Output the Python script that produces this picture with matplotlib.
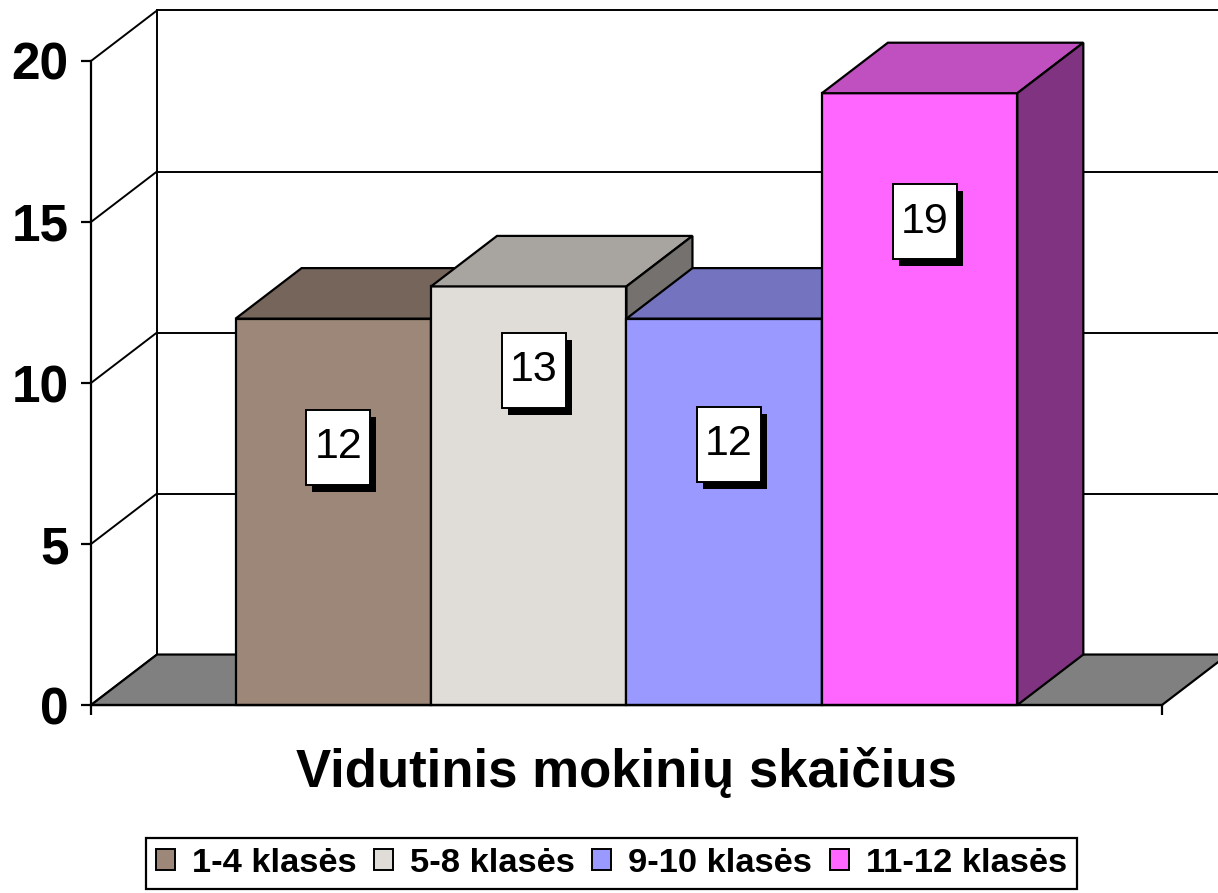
import matplotlib.pyplot as plt
import matplotlib.transforms as mtransforms
from matplotlib.patches import Polygon, Rectangle, Patch

categories = ["1-4 klasės", "5-8 klasės", "9-10 klasės", "11-12 klasės"]
values = [12, 13, 12, 19]
yticks = [0, 5, 10, 15, 20]
xlabel = "Vidutinis mokinių skaičius"

front_colors = ["#9C8778", "#E0DCD8", "#9999FF", "#FF66FF"]
top_colors = ["#76655B", "#A8A4A0", "#7373C0", "#C050C0"]
side_colors = ["#5A4C44", "#75716E", "#4D4D80", "#803380"]
floor_color = "#808080"

# where Excel dropped the value boxes (data units)
label_heights = [8.0, 10.4, 8.1, 15.0]

plt.rcParams["font.family"] = ["Liberation Sans", "DejaVu Sans"]

fig = plt.figure(figsize=(12.18, 8.93), dpi=100)
ax = fig.add_axes([0.0747, 0.2105, 0.8793, 0.7212])
ax.patch.set_visible(False)

xmin, xmax = -1.24, 4.24
ymax = yticks[-1]
ax.set_xlim(xmin, xmax)
ax.set_ylim(0, ymax)

# depth of the 3d box in data units
dx, dy = 0.3376, 1.568
lw = 1.6
glw = 1.4

# side wall + back wall gridlines
for v in yticks:
    ax.plot([xmin, xmin + dx], [v, v + dy], color="black", lw=glw, clip_on=False, zorder=1)
    ax.plot([xmin + dx, xmax + dx], [v + dy, v + dy], color="black", lw=glw, clip_on=False, zorder=1)
ax.plot([xmin + dx, xmin + dx], [dy, ymax + dy], color="black", lw=glw, clip_on=False, zorder=1)
ax.plot([xmax + dx, xmax + dx], [dy, ymax + dy], color="black", lw=glw, clip_on=False, zorder=1)

# floor
floor = Polygon([(xmin, 0), (xmax, 0), (xmax + dx, dy), (xmin + dx, dy)],
                closed=True, facecolor=floor_color, edgecolor="black", lw=lw,
                clip_on=False, zorder=2)
ax.add_patch(floor)

# bars
for i, v in enumerate(values):
    x0, x1 = i - 0.5, i + 0.5
    z = 3 + i
    ax.add_patch(Polygon([(x0, 0), (x1, 0), (x1, v), (x0, v)], facecolor=front_colors[i],
                         edgecolor="black", lw=lw, clip_on=False, zorder=z))
    ax.add_patch(Polygon([(x0, v), (x1, v), (x1 + dx, v + dy), (x0 + dx, v + dy)],
                         facecolor=top_colors[i], edgecolor="black", lw=lw,
                         clip_on=False, zorder=z))
    ax.add_patch(Polygon([(x1, 0), (x1 + dx, dy), (x1 + dx, v + dy), (x1, v)],
                         facecolor=side_colors[i], edgecolor="black", lw=lw,
                         clip_on=False, zorder=z))

# value boxes with drop shadow
for i, v in enumerate(values):
    lx, ly = i + 0.025, label_heights[i]
    tr = fig.dpi_scale_trans + mtransforms.ScaledTranslation(lx, ly, ax.transData)
    ax.add_patch(Rectangle((-0.26, -0.445), 0.64, 0.75, transform=tr,
                           facecolor="black", edgecolor="none", clip_on=False, zorder=20))
    ax.add_patch(Rectangle((-0.32, -0.375), 0.64, 0.75, transform=tr,
                           facecolor="white", edgecolor="black", lw=1.4,
                           clip_on=False, zorder=21))
    ax.text(lx, ly, str(v), ha="center", va="center", fontsize=31, zorder=22)

# axes
for s in ["top", "right"]:
    ax.spines[s].set_visible(False)
ax.spines["left"].set_linewidth(lw)
ax.spines["bottom"].set_linewidth(lw)
ax.spines["left"].set_zorder(30)
ax.spines["bottom"].set_zorder(30)
ax.set_yticks(yticks)
ax.set_yticklabels([str(t) for t in yticks], fontsize=37, fontweight="bold")
ax.set_xticks([xmin, xmax])
ax.set_xticklabels([])
ax.tick_params(direction="out", length=7.2, width=lw, pad=9)
ax.set_xlabel(xlabel, fontsize=38, fontweight="bold", labelpad=14)

handles = [Patch(facecolor=c, edgecolor="black", lw=1.4) for c in front_colors]
leg = fig.legend(handles, categories, loc="center", bbox_to_anchor=(0.502, 0.033),
                 ncol=4, prop={"size": 24.8, "weight": "bold"}, frameon=True,
                 fancybox=False, edgecolor="black", framealpha=1,
                 handlelength=0.55, handleheight=0.55, handletextpad=0.5,
                 columnspacing=0.5, borderpad=0.3)
leg.get_frame().set_linewidth(1.6)

fig.savefig("out.png", dpi=100)
